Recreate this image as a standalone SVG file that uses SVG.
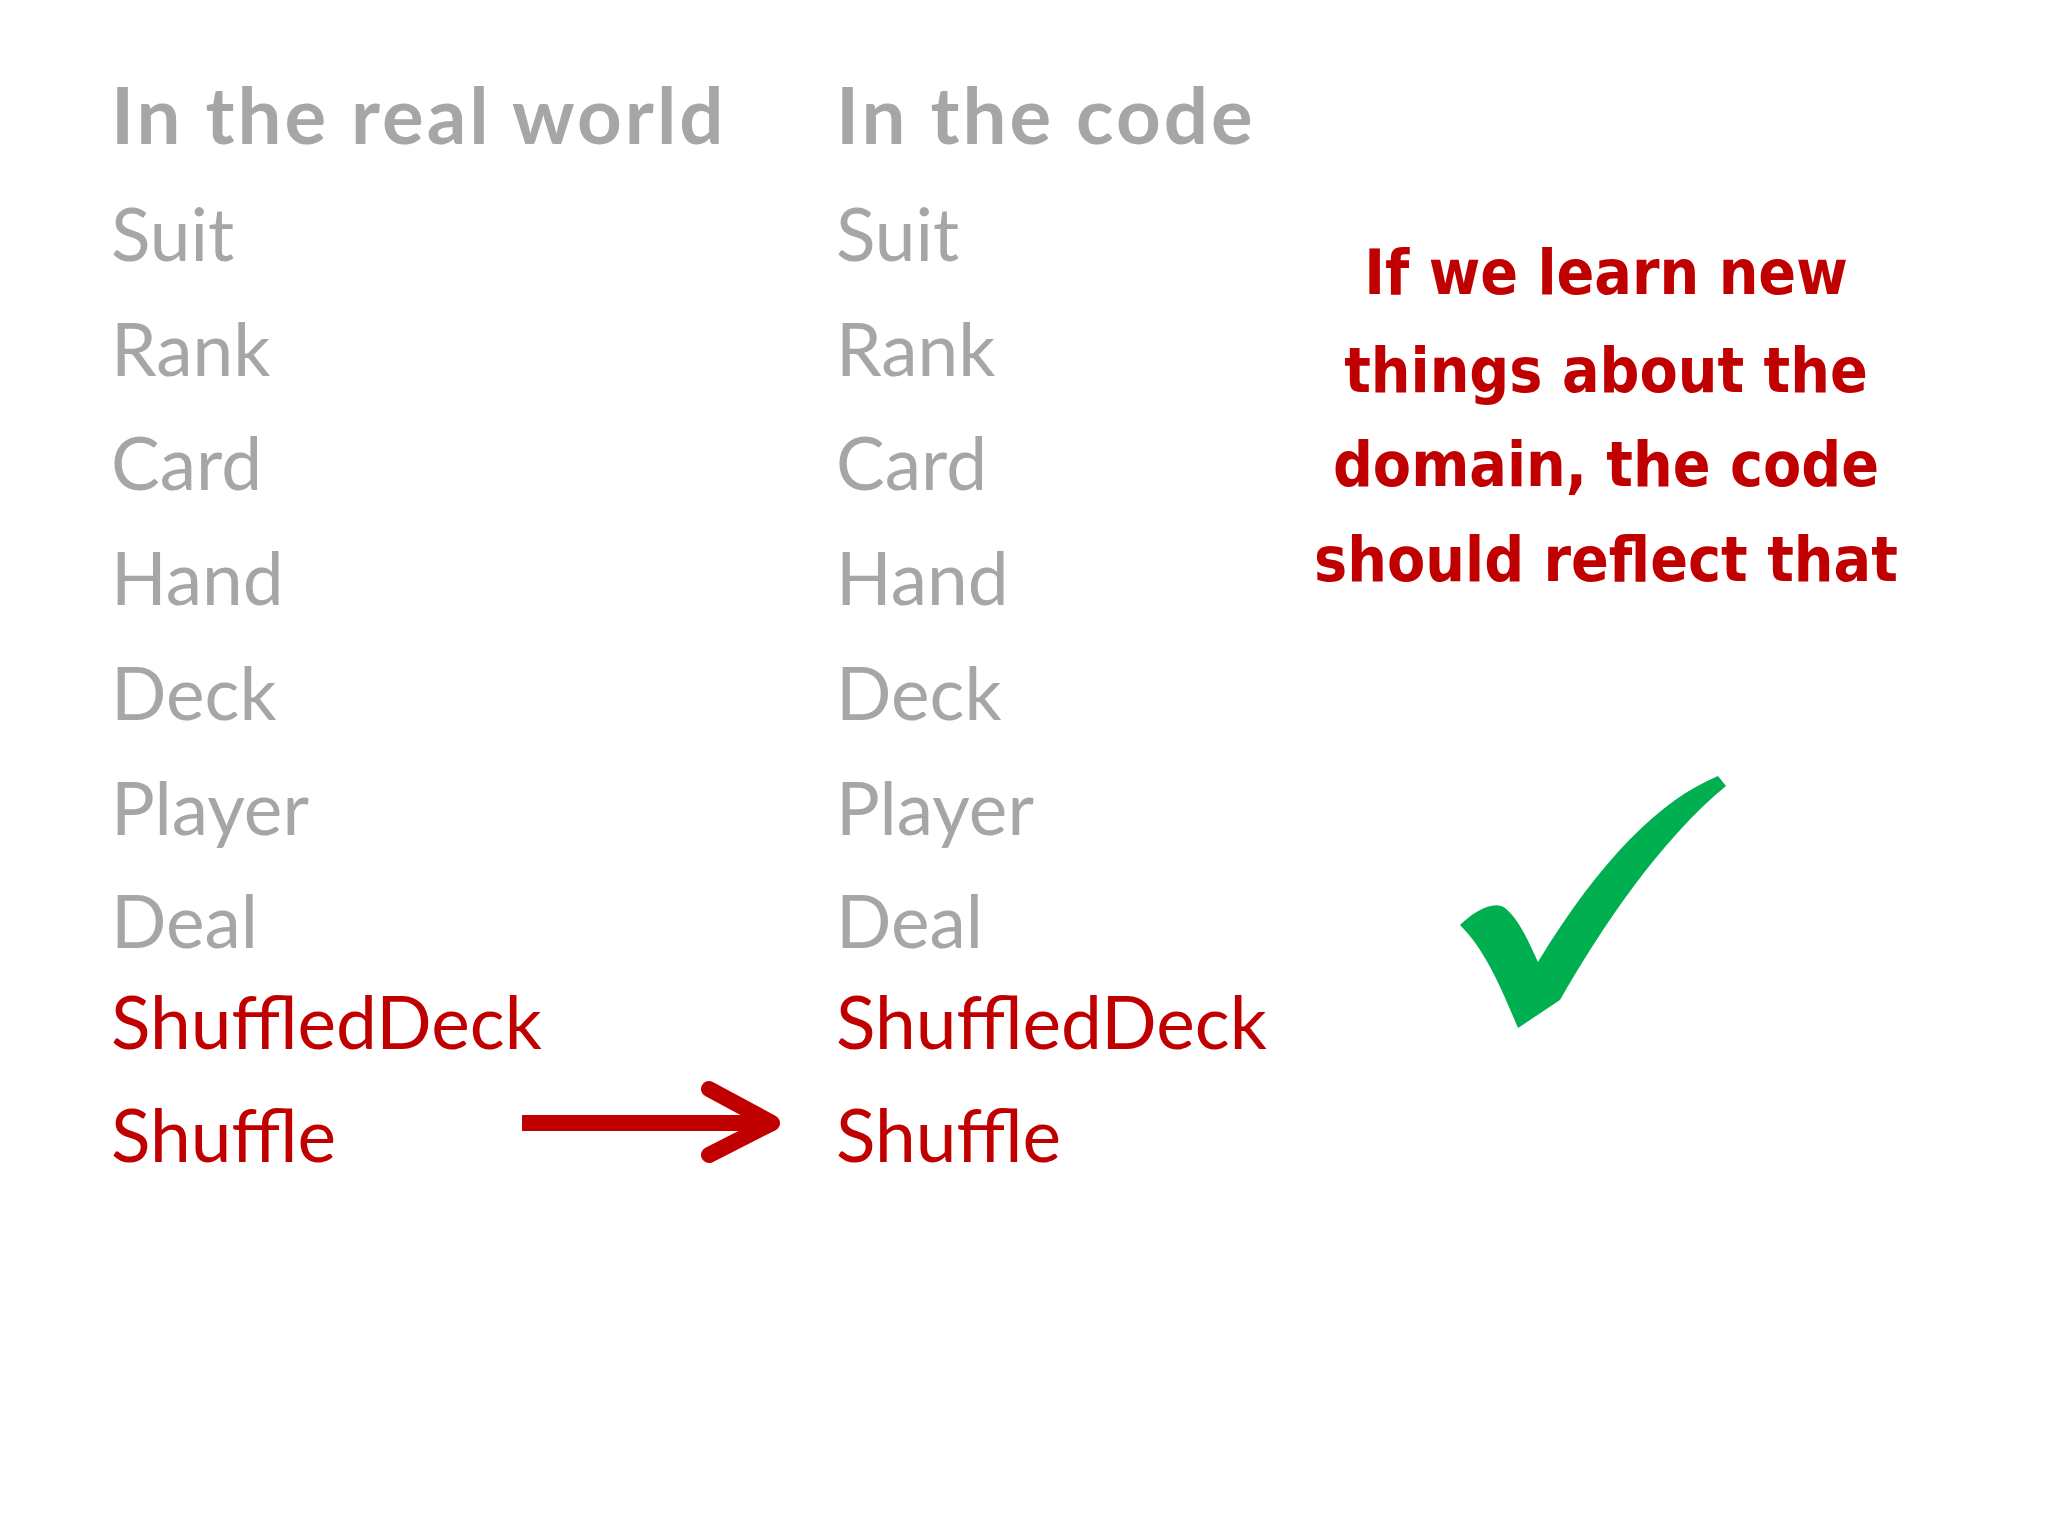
<svg xmlns="http://www.w3.org/2000/svg" width="2048" height="1536" viewBox="0 0 2048 1536">
<style>
.h{font-family:Lato,"Liberation Sans",sans-serif;font-weight:bold;font-size:78px;fill:#a6a6a6;letter-spacing:3px}
.i{font-family:Lato,"Liberation Sans",sans-serif;font-size:73px;fill:#a6a6a6}
.r{fill:#c00000}
.n{font-family:"DejaVu Sans Condensed","DejaVu Sans",sans-serif;font-weight:bold;font-size:62px;fill:#c00000;text-anchor:middle}
</style>
<rect width="2048" height="1536" fill="#ffffff"/>
<g id="left">
<text class="h" x="111" y="144">In the real world</text>
<text class="i" x="111" y="261">Suit</text>
<text class="i" x="111" y="376">Rank</text>
<text class="i" x="111" y="490">Card</text>
<text class="i" x="111" y="605">Hand</text>
<text class="i" x="111" y="720">Deck</text>
<text class="i" x="111" y="835">Player</text>
<text class="i" x="111" y="948">Deal</text>
<text class="i r" x="111" y="1049">ShuffledDeck</text>
<text class="i r" x="111" y="1162">Shuffle</text>
</g>
<g id="right">
<text class="h" x="836" y="144">In the code</text>
<text class="i" x="836" y="261">Suit</text>
<text class="i" x="836" y="376">Rank</text>
<text class="i" x="836" y="490">Card</text>
<text class="i" x="836" y="605">Hand</text>
<text class="i" x="836" y="720">Deck</text>
<text class="i" x="836" y="835">Player</text>
<text class="i" x="836" y="948">Deal</text>
<text class="i r" x="836" y="1049">ShuffledDeck</text>
<text class="i r" x="836" y="1162">Shuffle</text>
</g>
<g id="connectors">
<line x1="522" y1="1123" x2="770" y2="1123" stroke="#c00000" stroke-width="16"/>
<polyline points="709,1089 772,1123 709,1155" fill="none" stroke="#c00000" stroke-width="16" stroke-linecap="round" stroke-linejoin="round"/>
</g>
<g id="note">
<text class="n" x="1606" y="294">If we learn new</text>
<text class="n" x="1606" y="392">things about the</text>
<text class="n" x="1606" y="486">domain, the code</text>
<text class="n" x="1606" y="581">should reflect that</text>
</g>
<g id="check">
<path d="M1460,925 C1475,910 1495,900 1505,908 C1520,920 1530,945 1538,962 C1600,860 1660,800 1718,776 L1726,786 C1660,840 1600,930 1560,1000 L1518,1028 C1500,985 1485,950 1460,925 Z" fill="#00b050"/>
</g>
</svg>
